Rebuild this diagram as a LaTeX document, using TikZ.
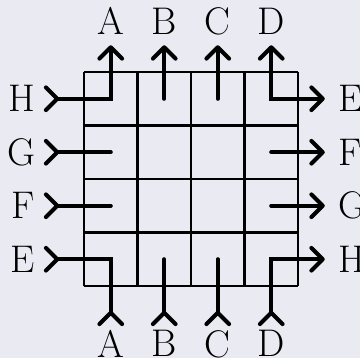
\documentclass[tikz,border=0pt]{standalone}
\usetikzlibrary{arrows.meta}
\definecolor{bgcol}{HTML}{EAEAF2}
\begin{document}
\begin{tikzpicture}[
  font=\fontsize{20.5}{24}\selectfont,
  gridline/.style={line width=1.3pt},
  wire/.style={line width=2.2pt, line cap=round},
  barb/.tip={Straight Barb[length=6pt,width=12pt,round]},
  rbarb/.tip={Straight Barb[length=6pt,width=12pt,round,reversed]},
  tip/.style={-barb},
  tailtip/.style={rbarb-},
  inout/.style={rbarb-barb},
  inin/.style={rbarb-rbarb},
  outout/.style={barb-barb},
  lbl/.style={inner sep=3.3pt}
]
\fill[bgcol] (-1.570,-1.346) rectangle (5.159,5.346);
\useasboundingbox (-1.570,-1.346) rectangle (5.159,5.346);

% the 4x4 board
\draw[gridline] (0,0) grid (4,4);

% cell centres used as wire ends
\foreach \i in {0,...,3}
  \foreach \j in {0,...,3}
    \coordinate (c\i\j) at (\i+0.5,\j+0.5);

% free ends on the four sides, with their letters
\foreach \n/\k in {A/0,B/1,C/2,D/3} {
  \coordinate (t\n) at (\k+0.5,4.5);
  \node[lbl,anchor=south] (lt\n) at (\k+0.5,4.575) {\n};
  \coordinate (b\n) at (\k+0.5,-0.75);
  \node[lbl,anchor=north] (lb\n) at (\k+0.5,-0.705) {\n};
}
% left side, top to bottom: H G F E
\foreach \n/\k in {H/3,G/2,F/1,E/0} {
  \coordinate (l\n) at (-0.75,\k+0.5);
  \node[lbl,anchor=east] (ll\n) at (-0.79,\k+0.5) {\n};
}
% right side, top to bottom: E F G H
\foreach \n/\k in {E/3,F/2,G/1,H/0} {
  \coordinate (r\n) at (4.5,\k+0.5);
  \node[lbl,anchor=west] (lr\n) at (4.63,\k+0.5) {\n};
}

% wires leaving the top
\draw[wire,inout] (lH) -| (tA);
\draw[wire,tip] (c13) -- (tB);
\draw[wire,tip] (c23) -- (tC);
\draw[wire,outout] (tD) |- (rE);

% middle rows
\draw[wire,tailtip] (lG) -- (c02);
\draw[wire,tip] (c32) -- (rF);
\draw[wire,tailtip] (lF) -- (c01);
\draw[wire,tip] (c31) -- (rG);

% wires entering from the bottom
\draw[wire,inin] (lE) -| (bA);
\draw[wire,tailtip] (bB) -- (c10);
\draw[wire,tailtip] (bC) -- (c20);
\draw[wire,inout] (bD) |- (rH);
\end{tikzpicture}
\end{document}
